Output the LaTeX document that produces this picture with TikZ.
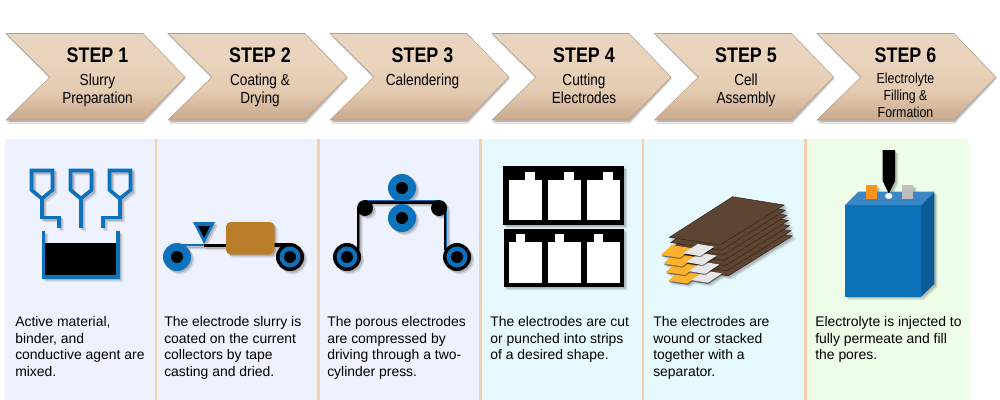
\documentclass[tikz,border=0pt]{standalone}
\usepackage{fontspec}
\setmainfont{Liberation Sans}
\newfontfamily\narrowfont[FakeStretch=0.85]{Liberation Sans}
\usetikzlibrary{calc}
\definecolor{panelA}{HTML}{EEF2FE}
\definecolor{panelB}{HTML}{E6F9FF}
\definecolor{panelC}{HTML}{EDFDE8}
\definecolor{divider}{HTML}{F3D0AC}
\definecolor{chevEdge}{HTML}{B5A08C}
\colorlet{cB}{black}
\definecolor{cBlue}{HTML}{0B72BB}
\definecolor{cBrown}{HTML}{B97C28}
\definecolor{cSheet}{HTML}{5E4433}
\definecolor{cSheetE}{HTML}{2E211A}
\definecolor{cTabO}{HTML}{FDB22E}
\definecolor{cTabW}{HTML}{E6E6E6}
\definecolor{cFront}{HTML}{0B72B9}
\definecolor{cTop}{HTML}{3A87C6}
\definecolor{cSide}{HTML}{0A5C98}
\definecolor{cOrange}{HTML}{F7931E}
\definecolor{cGray}{HTML}{BDBDBD}
\colorlet{cW}{white}
\pgfdeclareverticalshading{chevshade}{100bp}{
  rgb(0bp)=(.788,.663,.553);
  rgb(25bp)=(.788,.663,.553);
  rgb(42bp)=(.894,.796,.694);
  rgb(60bp)=(.918,.831,.741);
  rgb(75bp)=(.91,.835,.753);
  rgb(100bp)=(.91,.835,.753)}
\newcommand\allblack{\colorlet{cB}{black}\colorlet{cBlue}{black}\colorlet{cBrown}{black}\colorlet{cSheet}{black}\colorlet{cSheetE}{black}\colorlet{cTabO}{black}\colorlet{cTabW}{black}\colorlet{cFront}{black}\colorlet{cTop}{black}\colorlet{cSide}{black}\colorlet{cOrange}{black}\colorlet{cGray}{black}\colorlet{cW}{black}}
\newcommand\softshadow[1]{%
  \begin{scope}[shift={(3,3)},transparency group,opacity=.12]
    \allblack #1
  \end{scope}
  \begin{scope}[shift={(1.7,1.7)},transparency group,opacity=.16]
    \allblack #1
  \end{scope}
  #1}
\tikzset{
  x=0.75pt,y=-0.75pt,
  steptitle/.style={inner sep=0,font=\narrowfont\bfseries\fontsize{15.8}{18}\selectfont},
  stepsub/.style={inner sep=0,anchor=north,align=center,font=\narrowfont\fontsize{12}{13.5}\selectfont},
  stepsubsmall/.style={inner sep=0,anchor=north,align=center,font=\narrowfont\fontsize{10.9}{12.8}\selectfont},
  bodytext/.style={inner sep=0,anchor=north west,align=left,font=\fontsize{10.45}{12.5}\selectfont},
  funnel/.style={draw=cBlue,line width=2.7pt,line join=miter},
  pipe/.style={draw=cBlue,line width=2.5pt},
}
\newcommand\chevron[1]{%
  \fill[black,opacity=.10] (#1+1,36) -- (#1+138,36) -- (#1+180,79) -- (#1+138,124) -- (#1+1,124) -- (#1+44,79) -- cycle;
  \fill[black,opacity=.18] (#1+1,35) -- (#1+138,35) -- (#1+179.5,78) -- (#1+138,122) -- (#1+1,122) -- (#1+44,78) -- cycle;
  \path[draw=chevEdge,line width=.4pt,shading=chevshade]
     (#1,33.5) -- (#1+137,33.5) -- (#1+179,77) -- (#1+137,120) -- (#1,120) -- (#1+44,77) -- cycle;
}
\newcommand\rollerB[2]{%
  \fill[cB] (#1,#2) circle (14);
  \fill[cBlue] (#1,#2) circle (10.5);
  \fill[cB] (#1,#2) circle (6);
}
\begin{document}
\begin{tikzpicture}
\useasboundingbox (0,0) rectangle (1000,400);
\fill[white] (0,0) rectangle (1000,400);
% panels
\fill[panelA] (5,139) rectangle (481,400);
\fill[panelB] (481,139) rectangle (806,400);
\fill[panelC] (806,139) rectangle (969,400);
\foreach \xx in {156,318.5,480.5,643,805.5}
  \draw[divider,line width=1.6pt] (\xx,139) -- (\xx,400);
% chevrons
\chevron{6}\chevron{168}\chevron{330}\chevron{492}\chevron{654.5}\chevron{817}
\node[steptitle] (t1) at (97.5,55.5) {STEP 1};
\node[steptitle] (t2) at (260,55.5) {STEP 2};
\node[steptitle] (t3) at (422.5,55.5) {STEP 3};
\node[steptitle] (t4) at (584,55.5) {STEP 4};
\node[steptitle] (t5) at (746,55.5) {STEP 5};
\node[steptitle] (t6) at (905.5,55.5) {STEP 6};
\node[stepsub] (s1) at (97.5,73.5) {Slurry\\Preparation};
\node[stepsub] (s2) at (260,73.5) {Coating \&\\Drying};
\node[stepsub] (s3) at (422.5,73.5) {Calendering};
\node[stepsub] (s4) at (584,73.5) {Cutting\\Electrodes};
\node[stepsub] (s5) at (746,73.5) {Cell\\Assembly};
\node[stepsubsmall] (s6) at (905.5,72.5) {Electrolyte\\Filling \&\\Formation};
% body text
\node[bodytext] (b1) at (15,316) {Active material,\\binder, and\\conductive agent are\\mixed.};
\node[bodytext] (b2) at (164,316) {The electrode slurry is\\coated on the current\\collectors by tape\\casting and dried.};
\node[bodytext] (b3) at (327,316) {The porous electrodes\\are compressed by\\driving through a two-\\cylinder press.};
\node[bodytext] (b4) at (490,316) {The electrodes are cut\\or punched into strips\\of a desired shape.};
\node[bodytext] (b5) at (653,316) {The electrodes are\\wound or stacked\\together with a\\separator.};
\node[bodytext] (b6) at (815,316) {Electrolyte is injected to\\fully permeate and fill\\the pores.};
% icon 1
\softshadow{%
  \draw[funnel] (31.5,170.5) -- (52.5,170.5) -- (52.5,190) -- (42,198.5) -- (31.5,190) -- cycle;
  \draw[funnel] (70.5,170.5) -- (91.5,170.5) -- (91.5,190) -- (81,198.5) -- (70.5,190) -- cycle;
  \draw[funnel] (109.5,170.5) -- (130.5,170.5) -- (130.5,190) -- (120,198.5) -- (109.5,190) -- cycle;
  \draw[pipe] (42,199) -- (42,217.5) -- (59,217.5) -- (59,228);
  \draw[pipe] (81,199) -- (81,228);
  \draw[pipe] (120,199) -- (120,217.5) -- (103,217.5) -- (103,228);
  \fill[cB] (44,243) rectangle (118,277);
  \draw[cBlue,line width=2.3pt] (43.5,231) -- (43.5,277) -- (118,277) -- (118,231);
}
% icon 2
\softshadow{%
  \draw[cBlue,line width=2pt] (177,245) -- (204,245);
  \draw[cB,line width=2.4pt] (204,245.5) -- (230,245.5);
  \draw[cB,line width=2.4pt] (270,245) -- (288,245);
  \fill[cBlue] (177,257) circle (14);
  \fill[cB] (177,257) circle (6);
  \rollerB{290}{257}
  \fill[cBlue] (193,222) -- (215,222) -- (204,244) -- cycle;
  \fill[cB] (198,226) -- (210,226) -- (204,238) -- cycle;
  \fill[cBrown,rounded corners=3.5pt] (226,222) rectangle (274.5,254.5);
}
% icon 3
\softshadow{%
  \fill[cBlue] (402,188) circle (14);
  \fill[cB] (402,188) circle (6);
  \fill[cBlue] (402,218) circle (14);
  \fill[cB] (402,218) circle (6);
  \draw[cBlue,line width=1.2pt] (365,201) -- (439,201);
  \draw[cB,line width=1.6pt] (365,202.5) -- (439,202.5);
  \draw[cBlue,line width=1pt] (359,208) -- (359,250);
  \draw[cB,line width=1.6pt] (357.7,208) -- (357.7,250);
  \draw[cB,line width=1.6pt] (445.2,208) -- (445.2,250);
  \draw[cBlue,line width=1pt] (446.7,208) -- (446.7,250);
  \fill[cB] (365,208) circle (8);
  \fill[cB] (439,208) circle (8);
  \rollerB{347}{257}
  \rollerB{457}{257}
}
% icon 4
\softshadow{%
  \fill[cB] (503,166) rectangle (624,225);
  \fill[cB] (503.5,228.5) rectangle (624,287);
}
\foreach \xa/\xt in {509/525,548/564,587/603}{
  \fill[white] (\xa,179.5) rectangle (\xa+32.5,220);
  \fill[white] (\xt,172) rectangle (\xt+9.5,180);
}
\foreach \xa/\xt in {509/515.5,548/554.5,587/593.5}{
  \fill[white] (\xa,241.5) rectangle (\xa+32.5,282.5);
  \fill[white] (\xt,234) rectangle (\xt+9.5,242);
}
% icon 5
\softshadow{%
  \foreach \k in {6,5,...,0}{
    \filldraw[fill=cSheet,draw=cSheetE,line width=.35pt,shift={(\k*1.38,\k*5.15)}]
      (732.7,196.7) -- (784.3,205) -- (720,245) -- (669.3,237.3) -- cycle;
  }
  \foreach \k in {3,2,1,0}{
    \fill[black,opacity=.4,shift={(\k*2.45+.4,\k*8.6+1.3)}] (661,255) -- (671.7,245) -- (692.3,248.3) -- (680,257.7) -- cycle;
    \fill[cTabO,shift={(\k*2.45,\k*8.6)}] (661,255) -- (671.7,245) -- (692.3,248.3) -- (680,257.7) -- cycle;
  }
  \foreach \k in {3,2,1,0}{
    \fill[black,opacity=.45,shift={(\k*2.6+.4,\k*8.9+1.3)}] (683.3,253.3) -- (697.7,244) -- (714.3,246.7) -- (700,256) -- cycle;
    \fill[cTabW,shift={(\k*2.6,\k*8.9)}] (683.3,253.3) -- (697.7,244) -- (714.3,246.7) -- (700,256) -- cycle;
  }
}
% icon 6
\softshadow{%
  \fill[cFront] (845,205) rectangle (921,296.7);
  \fill[cSide] (921,205) -- (934.3,191.7) -- (934.3,284) -- (921,296.7) -- cycle;
  \fill[cTop] (845,205) -- (858.3,191.7) -- (934.3,191.7) -- (921,205) -- cycle;
  \fill[cOrange] (865.7,185) rectangle (877,198.5);
  \fill[cGray] (902,185) rectangle (913.3,198.5);
  \fill[cB] (882.7,150) -- (895,150) -- (895,181) -- (889,193) -- (888.5,193) -- (882.7,181) -- cycle;
  \fill[cW] (888.7,196) ellipse (3.7 and 3);
}
\end{tikzpicture}
\end{document}
